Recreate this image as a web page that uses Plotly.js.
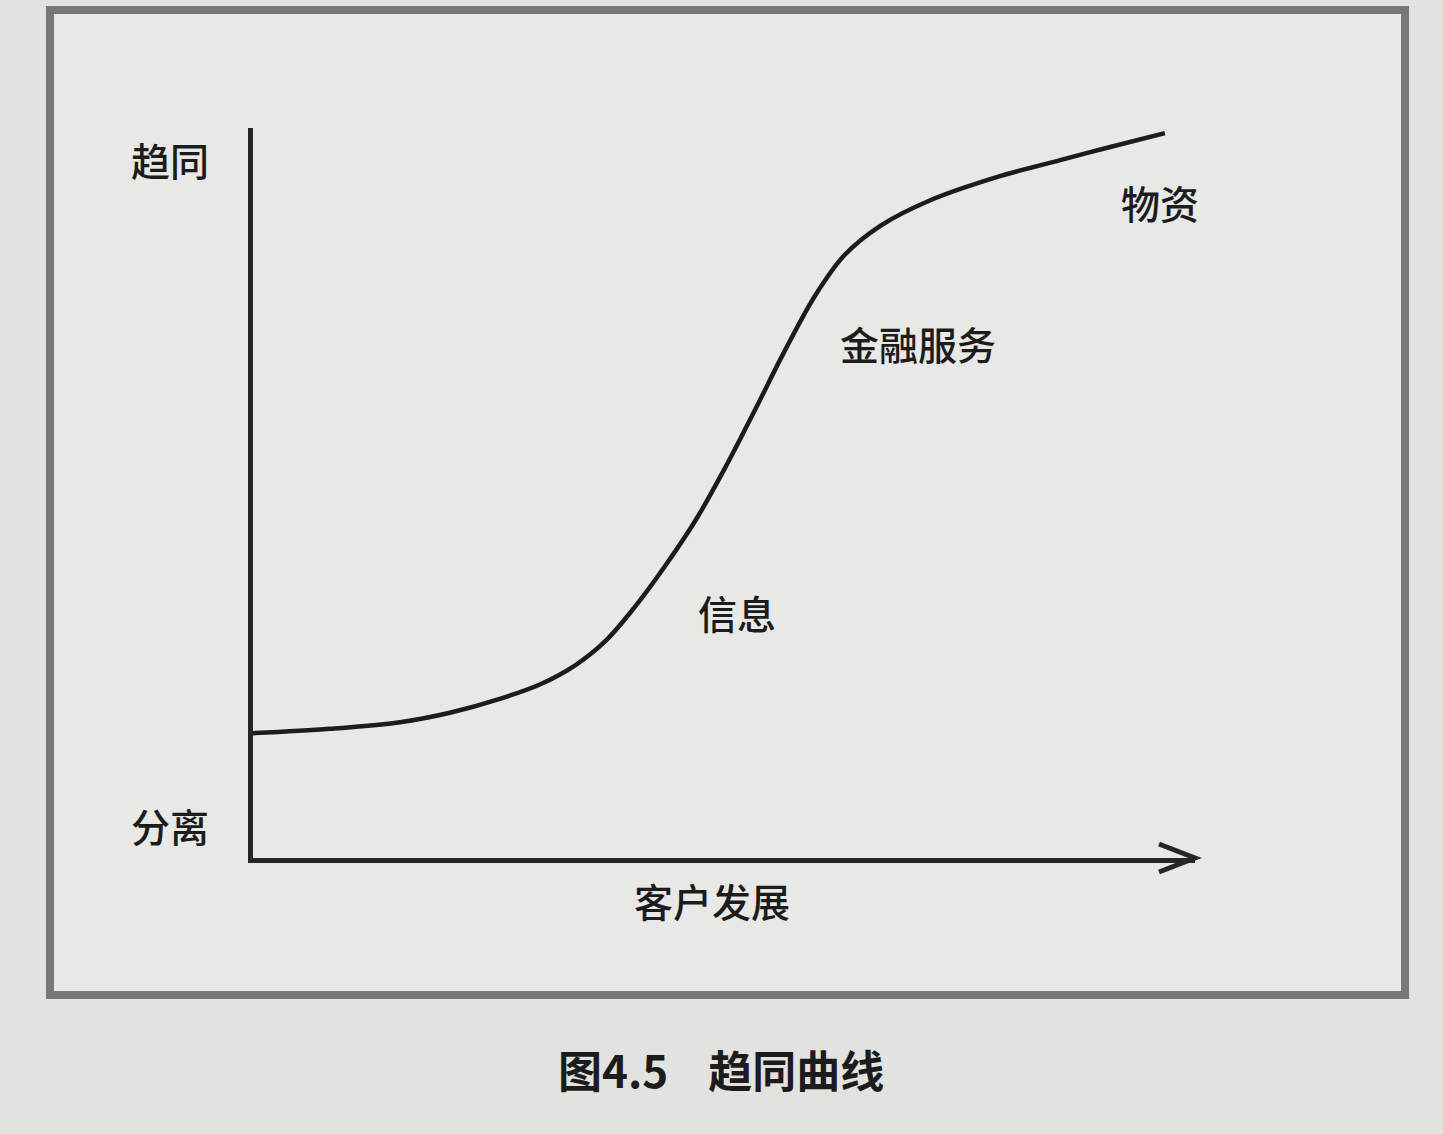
<!DOCTYPE html>
<html>
<head>
<meta charset="utf-8">
<script src="https://cdn.plot.ly/plotly-3.0.1.min.js"></script>
<style>
html,body{margin:0;padding:0;background:#e2e2e0;}
#chart{width:1443px;height:1134px;}
</style>
</head>
<body>
<div id="chart"></div>
<script>
// S-curve ("趋同曲线") — x: 客户发展 (0–100), y: 分离 → 趋同 (0–100)
const curveX = [0, 8.2, 15.6, 20.9, 26.2, 30.5, 34.2, 37.4, 40.6, 43.8, 47.0, 50.1, 53.3, 56.5, 59.7, 62.8, 66.6, 71.9, 79.3, 85.7, 91.0, 96.8];
const curveY = [17.1, 17.7, 18.6, 19.9, 21.8, 23.8, 26.4, 29.7, 34.5, 40.1, 46.3, 53.4, 61.4, 69.6, 77.1, 82.6, 86.6, 90.1, 93.4, 95.6, 97.4, 99.3];

// labels placed along the curve
const stageLabels = ["信息", "金融服务", "物资"];
const stageX = [51.4, 70.6, 96.3];
const stageY = [33.7, 70.5, 89.9];

// y-axis end labels
const yLabels = ["分离", "趋同"];
const yLabelPos = [4.5, 95.8];

const xTitle = "客户发展";
const caption = "图4.5\u00a0\u00a0\u00a0\u00a0趋同曲线";

const FONT = "Noto Sans CJK SC, Noto Sans, sans-serif";
const INK = "#1c1c1c";
const LABEL_FONT = {family: FONT, size: 39, color: INK, weight: 500};

const annotations = [];
stageLabels.forEach((t, i) => annotations.push({
  text: t, x: stageX[i], y: stageY[i], xref: "x", yref: "y",
  xanchor: "center", yanchor: "middle", showarrow: false, font: LABEL_FONT
}));
yLabels.forEach((t, i) => annotations.push({
  text: t, x: 0, y: yLabelPos[i], xref: "paper", yref: "y",
  xanchor: "right", yanchor: "middle", xshift: -42, showarrow: false, font: LABEL_FONT
}));
annotations.push({
  text: xTitle, x: 48.7, y: 0, xref: "x", yref: "paper",
  xanchor: "center", yanchor: "top", yshift: -12, showarrow: false, font: LABEL_FONT
});
annotations.push({
  text: caption, x: 0.497, y: -0.289, xref: "paper", yref: "paper",
  xanchor: "center", yanchor: "middle", showarrow: false,
  font: {family: FONT, size: 44, color: INK, weight: 700}
});

const trace = {
  x: curveX, y: curveY, type: "scatter", mode: "lines",
  line: {color: INK, width: 4.5, shape: "spline", smoothing: 1.0},
  hoverinfo: "skip"
};

const layout = {
  width: 1443, height: 1134,
  margin: {l: 253, r: 248, t: 128, b: 276, pad: 0},
  paper_bgcolor: "#e2e2e0",
  plot_bgcolor: "rgba(0,0,0,0)",
  showlegend: false,
  xaxis: {range: [0, 100], showgrid: false, zeroline: false, showticklabels: false, ticks: "",
          showline: true, linecolor: "#262626", linewidth: 5, fixedrange: true},
  yaxis: {range: [0, 100], showgrid: false, zeroline: false, showticklabels: false, ticks: "",
          showline: true, linecolor: "#262626", linewidth: 5, fixedrange: true},
  annotations: annotations,
  shapes: [
    // scanned frame
    {type: "rect", xref: "paper", yref: "paper", x0: -0.2155, x1: 1.223, y0: -0.1877, y1: 1.1616,
     line: {color: "#787878", width: 8}, fillcolor: "#e8e8e6", layer: "below"},
    // arrow head at the end of the x-axis
    {type: "path", xref: "paper", yref: "paper", xsizemode: "pixel", ysizemode: "pixel",
     xanchor: 1, yanchor: 0, path: "M-36,14 L0,0 L-36,-14",
     line: {color: "#262626", width: 5}}
  ]
};

Plotly.newPlot("chart", [trace], layout, {staticPlot: true, displayModeBar: false});
</script>
</body>
</html>
